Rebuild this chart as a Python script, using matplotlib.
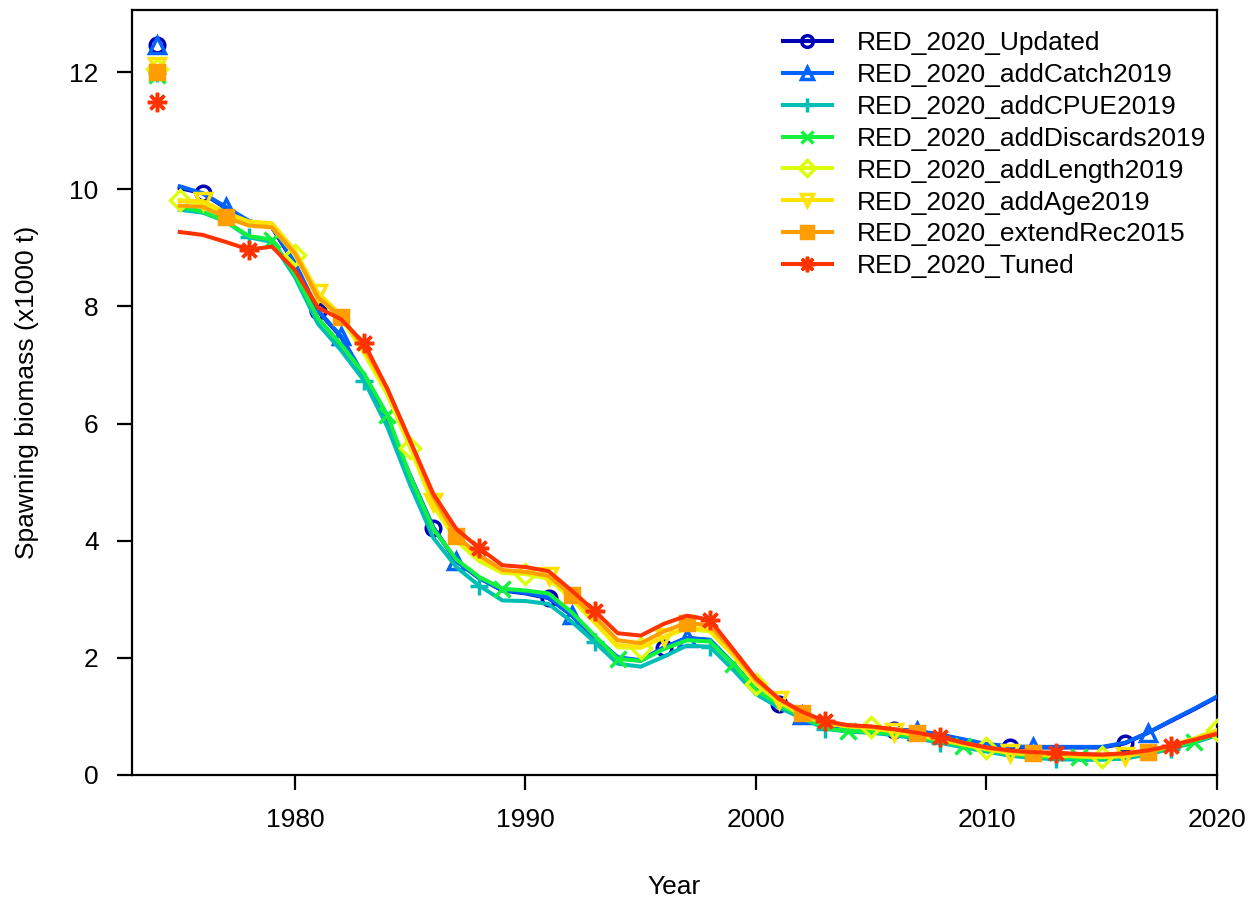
import matplotlib
matplotlib.use("Agg")
import matplotlib.pyplot as plt
from matplotlib.lines import Line2D
import numpy as np

plt.rcParams['font.family'] = ['Liberation Sans', 'DejaVu Sans']

years = list(range(1975, 2021))
virgin_year = 1974

labels = [
    "RED_2020_Updated",
    "RED_2020_addCatch2019",
    "RED_2020_addCPUE2019",
    "RED_2020_addDiscards2019",
    "RED_2020_addLength2019",
    "RED_2020_addAge2019",
    "RED_2020_extendRec2015",
    "RED_2020_Tuned",
]
colors = ["#0000B4", "#0063FF", "#00BEB4", "#13F23F",
          "#DDFE0B", "#FEE201", "#FF9E00", "#FF3300"]
markers = ["o", "^", "+", "x", "D", "v", "s", (8, 2, 0)]
filled = [False, False, True, True, False, False, True, True]
msizes = [10.5, 11.5, 13, 11, 10, 11.5, 10, 14]

# Spawning biomass at virgin conditions (x1000 t)
sb_virgin = [12.47, 12.47, 11.98, 11.95, 12.05, 12.10, 12.00, 11.49]

# Spawning biomass time series 1975-2020 (x1000 t)
sb_updated = [10.02, 9.93, 9.68, 9.45, 9.35, 8.72, 7.92, 7.48, 6.80, 6.00,
              5.10, 4.22, 3.65, 3.36, 3.15, 3.10, 3.02, 2.73, 2.35, 2.00,
              1.95, 2.17, 2.34, 2.30, 1.90, 1.45, 1.22, 1.02, 0.85, 0.82,
              0.80, 0.77, 0.75, 0.68, 0.60, 0.52, 0.48, 0.47, 0.47, 0.47,
              0.47, 0.54, 0.72, 0.92, 1.12, 1.33]
sb_addcatch = [10.05, 9.93, 9.70, 9.46, 9.36, 8.74, 7.93, 7.49, 6.81, 6.01,
               5.11, 4.23, 3.65, 3.36, 3.16, 3.11, 3.03, 2.73, 2.36, 2.01,
               1.96, 2.18, 2.34, 2.31, 1.91, 1.46, 1.23, 1.02, 0.86, 0.83,
               0.81, 0.78, 0.75, 0.69, 0.61, 0.53, 0.49, 0.48, 0.48, 0.48,
               0.48, 0.55, 0.72, 0.93, 1.13, 1.34]
sb_addcpue = [9.65, 9.60, 9.45, 9.18, 9.10, 8.50, 7.70, 7.25, 6.73, 5.95,
              4.95, 4.05, 3.55, 3.23, 2.98, 2.97, 2.92, 2.62, 2.27, 1.90,
              1.85, 2.02, 2.21, 2.19, 1.80, 1.38, 1.15, 0.97, 0.79, 0.74,
              0.72, 0.68, 0.62, 0.55, 0.47, 0.40, 0.33, 0.29, 0.27, 0.26,
              0.26, 0.28, 0.35, 0.45, 0.55, 0.68]
sb_adddiscards = [9.70, 9.62, 9.45, 9.20, 9.14, 8.55, 7.80, 7.35, 6.85, 6.15,
                  5.10, 4.20, 3.68, 3.38, 3.18, 3.15, 3.10, 2.78, 2.38, 1.98,
                  1.95, 2.15, 2.30, 2.28, 1.90, 1.45, 1.20, 1.00, 0.80, 0.75,
                  0.74, 0.70, 0.65, 0.58, 0.50, 0.43, 0.36, 0.32, 0.30, 0.30,
                  0.29, 0.32, 0.38, 0.47, 0.57, 0.70]
sb_addlength = [9.82, 9.75, 9.55, 9.40, 9.35, 8.88, 8.15, 7.80, 7.20, 6.50,
                5.58, 4.60, 4.00, 3.65, 3.45, 3.43, 3.35, 3.00, 2.60, 2.18,
                2.17, 2.35, 2.50, 2.45, 2.05, 1.55, 1.25, 1.02, 0.88, 0.83,
                0.82, 0.78, 0.70, 0.62, 0.53, 0.46, 0.38, 0.35, 0.33, 0.32,
                0.31, 0.33, 0.40, 0.50, 0.62, 0.77]
sb_addage = [9.80, 9.80, 9.60, 9.45, 9.42, 8.95, 8.23, 7.85, 7.25, 6.55,
             5.65, 4.66, 4.05, 3.72, 3.48, 3.45, 3.40, 3.05, 2.62, 2.22,
             2.18, 2.36, 2.52, 2.48, 2.05, 1.58, 1.28, 1.03, 0.88, 0.83,
             0.80, 0.74, 0.68, 0.60, 0.52, 0.44, 0.38, 0.35, 0.33, 0.32,
             0.31, 0.32, 0.39, 0.50, 0.62, 0.75]
sb_extendrec = [9.72, 9.70, 9.52, 9.38, 9.35, 8.90, 8.15, 7.82, 7.30, 6.60,
                5.70, 4.75, 4.08, 3.75, 3.50, 3.47, 3.40, 3.07, 2.70, 2.30,
                2.25, 2.45, 2.60, 2.55, 2.12, 1.62, 1.30, 1.06, 0.90, 0.85,
                0.82, 0.78, 0.72, 0.64, 0.55, 0.47, 0.41, 0.38, 0.36, 0.35,
                0.34, 0.36, 0.39, 0.50, 0.60, 0.72]
sb_tuned = [9.27, 9.22, 9.10, 8.97, 9.02, 8.62, 7.98, 7.78, 7.37, 6.60,
            5.70, 4.80, 4.20, 3.87, 3.58, 3.55, 3.48, 3.15, 2.80, 2.42,
            2.38, 2.58, 2.72, 2.65, 2.15, 1.65, 1.30, 1.08, 0.92, 0.85,
            0.83, 0.78, 0.72, 0.65, 0.55, 0.47, 0.42, 0.39, 0.38, 0.36,
            0.35, 0.37, 0.42, 0.50, 0.60, 0.70]

series = [sb_updated, sb_addcatch, sb_addcpue, sb_adddiscards,
          sb_addlength, sb_addage, sb_extendrec, sb_tuned]

fig = plt.figure(figsize=(12.58, 9.02), dpi=100)
ax = fig.add_axes([132 / 1258, 1 - 775 / 902, (1217 - 132) / 1258, (775 - 10) / 902])

lw = 2.9
handles = []
for i, (vals, lab, col, mk, fl, ms) in enumerate(zip(series, labels, colors, markers, filled, msizes)):
    mkw = dict(marker=mk, markersize=ms, markeredgewidth=2.5, markeredgecolor=col,
               markerfacecolor=(col if fl else "none"))
    # staggered marker positions: every 5 years, offset by series index
    start = (i + 1) % 5
    ax.plot(years, vals, color=col, lw=lw, markevery=(start, 5), **mkw,
            solid_joinstyle="round", zorder=3 + i)
    ax.plot([virgin_year], [sb_virgin[i]], linestyle="none", zorder=3 + i, **mkw)
    hkw = dict(mkw)
    hkw["markersize"] = ms * 0.8
    handles.append(Line2D([0], [0], color=col, lw=lw, **hkw))

ax.set_xlim(1972.93, 2020)
ax.set_ylim(0, 13.06)
ax.set_xticks([1980, 1990, 2000, 2010, 2020])
ax.set_yticks([0, 2, 4, 6, 8, 10, 12])
for sp in ax.spines.values():
    sp.set_linewidth(1.6)
ax.tick_params(direction="out", length=11, width=1.6, labelsize=19, pad=13)

ax.set_xlabel("Year", fontsize=19, labelpad=31)
ax.set_ylabel("Spawning biomass (x1000 t)", fontsize=19, labelpad=22)

leg = ax.legend(handles=handles, labels=labels, loc="upper left",
                bbox_to_anchor=(783 / 1258, 1 - 31 / 902), bbox_transform=fig.transFigure,
                frameon=False, fontsize=19, handlelength=1.85, handletextpad=0.95,
                labelspacing=0.30, borderpad=0, borderaxespad=0)

fig.savefig("out.png", dpi=100)
